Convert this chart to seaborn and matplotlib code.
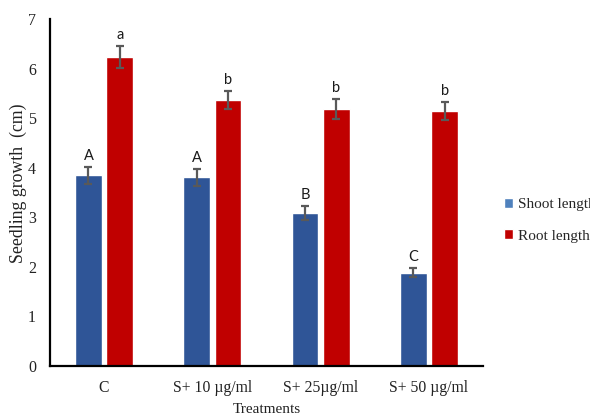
import matplotlib
matplotlib.use("Agg")
import matplotlib.pyplot as plt
from matplotlib.patches import Patch
import seaborn as sns
import pandas as pd

treatments = ["C", "S+ 10 \u00b5g/ml", "S+ 25\u00b5g/ml", "S+ 50 \u00b5g/ml"]
shoot_length = [3.85, 3.81, 3.09, 1.88]
shoot_err = [0.17, 0.17, 0.14, 0.09]
root_length = [6.23, 5.37, 5.18, 5.15]
root_err = [0.22, 0.18, 0.20, 0.18]
shoot_letters = ["A", "A", "B", "C"]
root_letters = ["a", "b", "b", "b"]
series = ["Shoot length", "Root length"]

df = pd.DataFrame({
    "Treatment": treatments * 2,
    "Series": [series[0]] * 4 + [series[1]] * 4,
    "Value": shoot_length + root_length,
    "Err": shoot_err + root_err,
    "Letter": shoot_letters + root_letters,
})

sns.set_theme(style="white")
plt.rcParams["font.family"] = ["Liberation Serif", "DejaVu Serif"]

fig = plt.figure(figsize=(5.9, 4.17), dpi=100)
ax = fig.add_axes([0.0847, 0.1223, 0.734, 0.832])

palette = {"Shoot length": "#2F5597", "Root length": "#C00000"}
sns.barplot(data=df, x="Treatment", y="Value", hue="Series", order=treatments,
            hue_order=series, palette=palette, width=0.58, gap=0.15,
            errorbar=None, saturation=1, ax=ax, legend=False)

# error bars and significance letters on each bar
for container, name in zip(ax.containers, series):
    sub = df[df["Series"] == name].set_index("Treatment").loc[treatments]
    for bar, (_, row) in zip(container, sub.iterrows()):
        xc = bar.get_x() + bar.get_width() / 2
        h = bar.get_height()
        ax.errorbar(xc, h, yerr=row["Err"], fmt="none", ecolor="#595959",
                    elinewidth=1.6, capsize=3, capthick=1.6, zorder=3)
        ax.text(xc, h + row["Err"] + 0.08, row["Letter"], ha="center",
                va="bottom", fontsize=10.5, family=["Lato", "DejaVu Sans"],
                color="#1a1a1a")

ax.set_ylim(0, 7)
ax.set_xlim(-0.5, 3.5)
ax.set_yticks(range(0, 8))
ax.tick_params(axis="both", length=0, labelsize=11.5, colors="#222222")
ax.tick_params(axis="y", pad=10)
ax.tick_params(axis="x", pad=10)
for lbl in ax.get_xticklabels():
    lbl.set_fontsize(11.3)

ax.set_xlabel("Treatments", fontsize=11, labelpad=5, color="#222222")
ax.set_ylabel("Seedling growth  (cm)", fontsize=12.8, color="#222222",
              va="center")
ax.yaxis.set_label_coords(-0.074, 0.526)

for side in ["top", "right"]:
    ax.spines[side].set_visible(False)
for side in ["left", "bottom"]:
    ax.spines[side].set_color("black")
    ax.spines[side].set_linewidth(1.6)

handles = [Patch(facecolor="#4F81BD", label="Shoot length"),
           Patch(facecolor="#C00000", label="Root length")]
ax.legend(handles=handles, loc="center left", bbox_to_anchor=(1.035, 0.42),
          frameon=False, fontsize=11, handlelength=0.6, handleheight=0.6,
          handletextpad=0.3, labelspacing=1.2, borderaxespad=0)

fig.savefig("out.png", dpi=100)
